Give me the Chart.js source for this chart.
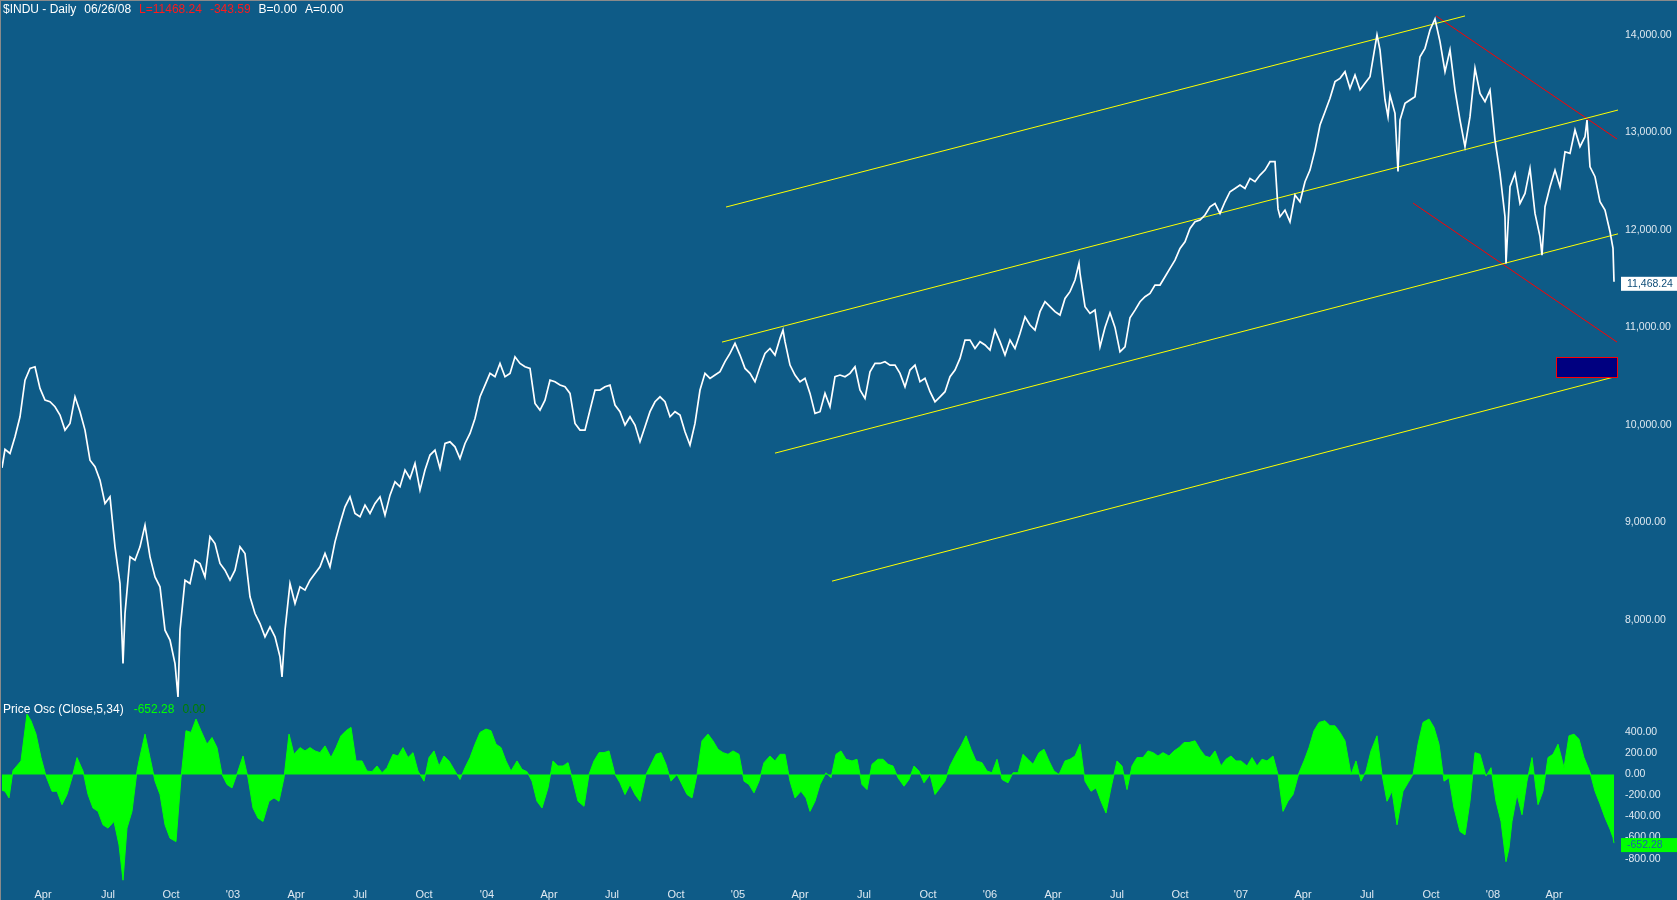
<!DOCTYPE html>
<html><head><meta charset="utf-8">
<script src="https://cdn.jsdelivr.net/npm/chart.js@4/dist/chart.umd.min.js"></script>
<style>
html,body{margin:0;padding:0;background:#0e5b87;overflow:hidden}
#wrap{position:relative;width:1677px;height:900px}
#c{position:absolute;left:0;top:0}
.lbl{position:absolute;font:12px "Liberation Sans",Arial,sans-serif;line-height:14px;color:#fff;white-space:pre}
.lbl span{margin-left:8px}
.lbl span:first-child{margin-left:0}
</style></head><body>
<div id="wrap">
<canvas id="c" width="1677" height="900"></canvas>
<div class="lbl" style="left:3px;top:2px"><span>$INDU - Daily</span><span>06/26/08</span><span style="color:#ff1a1a">L=11468.24</span><span style="color:#ff1a1a">-343.59</span><span>B=0.00</span><span>A=0.00</span></div>
<div class="lbl" style="left:3px;top:702px"><span>Price Osc (Close,5,34)</span><span style="margin-left:10px;color:#00ff00">-652.28</span><span style="color:#008000">0.00</span></div>
</div>
<script>
// ---- x axis (trading-day index) ----
const xMin = 2, xMax = 1620;
const xTickDays = [43,108,171,233,296,360,424,487,549,612,676,738,800,864,928,990,1053,1117,1180,1241,1303,1367,1431,1493,1554];
const xTickLabels = ['Apr','Jul','Oct',"'03",'Apr','Jul','Oct',"'04",'Apr','Jul','Oct',"'05",'Apr','Jul','Oct',"'06",'Apr','Jul','Oct',"'07",'Apr','Jul','Oct',"'08",'Apr'];

// ---- price (Dow Jones Industrials, daily close samples) ----
const priceDays = [2,5,10,15,20,25,30,35,40,45,50,55,60,65,70,75,80,85,90,95,100,105,110,115,120,123,125,130,135,140,145,150,155,160,165,170,175,178,180,185,190,195,200,205,210,215,220,225,230,235,240,245,250,255,260,265,270,275,280,282,285,290,295,300,305,310,315,320,325,330,335,340,345,350,355,360,365,370,375,380,385,390,395,400,405,410,415,420,425,430,435,440,445,450,455,460,465,470,475,480,485,490,495,500,505,510,515,520,525,530,535,
540,545,550,555,560,565,570,575,580,585,590,595,600,605,610,615,620,625,630,635,640,645,650,655,660,665,670,675,680,685,690,695,700,705,710,715,720,725,730,735,740,745,750,755,760,765,770,775,780,783,785,790,795,800,805,810,815,820,825,830,835,840,845,850,855,860,865,870,875,880,885,890,895,900,905,910,915,920,925,930,935,940,945,950,955,960,965,970,975,980,985,990,995,1000,1005,1010,1015,1020,1025,1030,1035,1040,1045,1050,1055,1060,1065,1070,1075,1079,1080,1085,1090,1095,1100,1105,1110,1115,1120,1125,
1130,1135,1140,1145,1150,1155,1160,1165,1170,1175,1180,1185,1190,1195,1200,1205,1210,1215,1220,1225,1230,1235,1240,1245,1250,1255,1260,1265,1270,1275,1278,1280,1285,1290,1295,1300,1305,1310,1315,1320,1325,1330,1335,1340,1345,1350,1355,1360,1365,1370,1377,1380,1385,1388,1390,1395,1398,1400,1405,1410,1415,1420,1425,1430,1435,1440,1445,1450,1455,1460,1465,1470,1475,1480,1485,1490,1495,1500,1505,1506,1510,1515,1520,1525,1530,1535,1540,1542,1545,1550,1555,1560,1565,1570,1575,1580,1585,1587,1590,1595,1600,1605,1610,1613,1614];
const priceClose = [9560,9750,9708,9879,10084,10460,10580,10597,10375,10255,10238,10187,10101,9947,10015,10289,10135,9947,9639,9571,9434,9195,9263,8750,8374,7553,8066,8647,8613,8750,8972,8647,8442,8340,7895,7793,7553,7211,7895,8408,8374,8613,8579,8442,8853,8784,8579,8511,8408,8511,8750,8682,8237,8066,7963,7827,7929,7827,7622,7416,7895,8374,8169,8340,8306,8408,8476,8545,8682,8545,8801,8989,9160,9263,9092,9058,9178,9092,9195,9263,9075,9280,9417,9366,9537,9451,9605,9332,9537,9691,9742,9554,9810,9827,9776,9656,9810,9913,10067,10289,10409,10529,10494,10631,10494,10529,10699,10631,10597,10580,10221,
10153,10255,10460,10443,10409,10392,10324,10016,9947,9947,10153,10358,10358,10392,10409,10204,10136,9999,10084,9999,9828,9982,10136,10238,10289,10238,10084,10136,10101,9930,9794,10016,10358,10529,10478,10512,10546,10649,10734,10837,10717,10580,10529,10443,10597,10734,10785,10717,10888,10973,10854,10614,10512,10443,10478,10324,10119,10136,10324,10187,10495,10512,10495,10529,10597,10358,10272,10546,10631,10631,10649,10614,10614,10529,10392,10563,10614,10443,10478,10341,10238,10289,10341,10495,10563,10683,10871,10871,10785,10854,10820,10768,10973,10854,10717,10871,10785,10939,11110,11025,10973,11162,11264,11213,11162,11127,11298,11367,11486,11657,11555,11213,11144,11179,10802,11000,11150,11000,10750,10800,
11100,11178,11264,11315,11349,11435,11435,11520,11606,11691,11811,11879,12016,12084,12101,12153,12238,12272,12170,12289,12392,12426,12461,12426,12529,12495,12563,12614,12700,12700,12216,12136,12204,12084,12358,12289,12495,12614,12819,13076,13213,13350,13521,13555,13623,13452,13589,13435,13504,13572,14000,13846,13333,13162,13384,13196,12600,13127,13298,13333,13367,13777,13863,14051,14164,13931,13623,13846,13435,13127,12854,13162,13658,13401,13316,13435,12922,12580,12136,11657,12443,12580,12272,12375,12631,12170,11931,11742,12238,12443,12614,12443,12802,12785,13025,12854,12956,13127,12648,12546,12289,12204,11982,11812,11468.24];

// ---- price oscillator (Close,5,34) samples ----
const oscDays = [2,5,9,13,21,27,31,36,41,46,52,57,62,67,72,77,83,88,93,98,103,108,114,119,123,127,132,137,139,145,150,155,160,165,170,176,181,186,191,196,201,207,212,217,222,227,232,238,243,248,253,258,263,269,274,279,284,289,294,300,305,310,315,320,325,331,336,341,346,351,356,362,367,372,377,382,387,393,398,403,408,413,418,424,429,434,439,444,449,455,460,465,470,475,480,486,491,496,501,506,511,517,522,527,532,537,542,548,553,558,563,568,573,578,584,589,594,599,604,609,615,620,625,630,635,640,646,651,656,661,666,671,677,682,687,692,697,702,708,713,718,723,728,733,739,744,749,754,759,764,770,775,780,785,790,795,801,806,
810,815,820,826,831,836,841,846,852,857,862,867,872,878,883,888,893,898,904,909,914,919,924,930,935,940,945,950,956,961,966,971,976,982,987,992,997,1002,1008,1013,1018,1023,1028,1033,1039,1044,1049,1054,1059,1065,1070,1075,1080,1085,1091,1096,1101,1106,1111,1117,1122,1127,1132,1137,1143,1148,1153,1158,1163,1169,1174,1179,1184,1189,1195,1200,1205,1210,1215,1221,1226,1231,1236,1241,1247,1252,1257,1262,1267,1273,1278,1283,1288,1293,1299,1304,1309,1314,1319,1325,1330,1335,1340,1345,1351,1356,1361,1366,1371,1377,1382,1387,1392,1397,1403,1408,1413,1418,1423,1429,1434,1439,1444,1449,1454,1460,1465,1470,1475,1480,1486,1491,1496,1501,1506,1509,1512,1517,1522,1527,1532,1538,1543,1548,1553,1558,1564,1569,1574,1579,1584,1590,1595,1600,1605,1610,1613,1614];
const oscValue = [-150,-160,-223,38,128,574,510,383,160,-16,-160,-160,-287,-191,-32,160,32,-191,-319,-351,-479,-510,-447,-670,-1005,-510,-351,32,128,383,160,-64,-191,-479,-606,-638,-32,415,399,526,415,287,351,255,0,-96,-128,32,175,-32,-319,-415,-447,-255,-223,-255,-32,383,191,255,223,255,223,207,271,160,255,367,415,447,128,128,32,26,80,16,64,191,175,255,160,207,32,-64,160,223,80,175,128,32,-48,64,160,287,399,431,415,287,255,128,32,128,48,26,-64,-255,-319,-128,128,80,80,112,-64,-255,-303,0,128,207,207,223,0,-80,-191,-96,-191,-255,0,96,191,207,96,-64,0,-96,-191,-223,0,319,383,319,239,207,191,223,191,-64,-96,-175,-64,112,175,128,191,191,-64,-223,-160,-223,
-351,-255,-96,16,-32,191,223,144,128,144,-96,-144,96,144,144,96,80,-32,-112,-48,80,32,-80,0,-191,-128,-64,80,191,271,367,239,128,112,32,16,144,-48,-80,16,16,191,144,96,207,239,128,32,0,128,144,175,287,-64,-160,-128,-255,-367,-128,128,80,-144,80,160,160,223,207,175,207,175,223,255,303,303,319,239,175,160,223,80,144,175,128,128,80,160,80,144,128,175,0,-351,-255,-191,16,128,255,415,494,510,462,462,399,319,0,128,-64,32,223,367,0,-255,-160,-479,-160,-80,0,287,494,526,447,287,-64,-32,-319,-542,-574,-255,207,191,-16,64,-255,-447,-829,-702,-447,-191,-383,-64,160,-287,-160,160,191,287,64,367,382,335,160,20,-160,-280,-411,-520,-600,-652.28];

// ---- axis ticks ----
const priceTicks = [8000,9000,10000,11000,12000,13000,14000];
const oscTicks = [400,200,0,-200,-400,-600,-800];
const priceRange = [7179, 14338];
const oscRange = [-1060, 707];

// ---- drawn channel (yellow) and trend (red) lines ----
const channelStartDay = [726, 722, 775, 832];
const channelStartPrice = [12235, 10850, 9711, 8398];
const channelEndDay = [1465, 1618, 1618, 1617];
const channelEndPrice = [14195, 13230, 11960, 10500];
const trendStartDay = [1436, 1413];
const trendStartPrice = [14195, 12276];
const trendEndDay = [1617, 1617];
const trendEndPrice = [12933, 10850];
// target box
const boxDays = [1556, 1617];
const boxPrices = [10491, 10696];

const BG = '#0e5b87';
const TICK = '#dfe9f1';
const FONT = '"Liberation Sans", Arial, sans-serif';
const fmt2 = v => v.toLocaleString('en-US', {minimumFractionDigits: 2, maximumFractionDigits: 2});

const datasets = [];
datasets.push({
  type: 'line', label: 'Price', yAxisID: 'yP',
  data: priceDays.map((d, i) => ({x: d, y: priceClose[i]})),
  borderColor: '#ffffff', borderWidth: 1.7, pointRadius: 0, tension: 0, fill: false
});
datasets.push({
  type: 'line', label: 'Osc', yAxisID: 'yO',
  data: oscDays.map((d, i) => ({x: d, y: oscValue[i]})),
  borderColor: '#00ff00', borderWidth: 1, backgroundColor: '#00ff00', pointRadius: 0, tension: 0, fill: 'origin'
});
channelStartDay.forEach((d, i) => datasets.push({
  type: 'line', yAxisID: 'yP',
  data: [{x: d, y: channelStartPrice[i]}, {x: channelEndDay[i], y: channelEndPrice[i]}],
  borderColor: '#ffff00', borderWidth: 1, pointRadius: 0, fill: false
}));
trendStartDay.forEach((d, i) => datasets.push({
  type: 'line', yAxisID: 'yP',
  data: [{x: d, y: trendStartPrice[i]}, {x: trendEndDay[i], y: trendEndPrice[i]}],
  borderColor: '#ff0000', borderWidth: 1, pointRadius: 0, fill: false
}));

const decor = {
  id: 'decor',
  beforeDraw(chart) {
    const c = chart.ctx;
    c.save();
    c.fillStyle = BG; c.fillRect(0, 0, chart.width, chart.height);
    c.fillStyle = '#8a8a8a';
    c.fillRect(0, 0, chart.width, 1);
    c.fillRect(0, 0, 1, chart.height);
    c.restore();
  },
  afterDraw(chart) {
    const c = chart.ctx, x = chart.scales.x, yP = chart.scales.yP, yO = chart.scales.yO;
    c.save();
    // target box
    const bx0 = x.getPixelForValue(boxDays[0]), bx1 = x.getPixelForValue(boxDays[1]);
    const by0 = yP.getPixelForValue(boxPrices[1]), by1 = yP.getPixelForValue(boxPrices[0]);
    c.fillStyle = '#000080'; c.fillRect(bx0, by0, bx1 - bx0, by1 - by0);
    c.strokeStyle = '#ff0000'; c.lineWidth = 1; c.strokeRect(Math.round(bx0) + 0.5, Math.round(by0) + 0.5, Math.round(bx1 - bx0), Math.round(by1 - by0));
    // last value boxes
    const lastP = priceClose[priceClose.length - 1], lastO = oscValue[oscValue.length - 1];
    const left = chart.chartArea.right + 1;
    c.font = '10.5px ' + FONT;
    c.textBaseline = 'middle'; c.textAlign = 'left';
    let py = yP.getPixelForValue(lastP) + 2;
    c.fillStyle = '#ffffff'; c.fillRect(left, py - 7, chart.width - left, 14);
    c.fillStyle = '#0e4d78'; c.fillText(fmt2(lastP), left + 6, py);
    let oy = yO.getPixelForValue(lastO) + 2;
    c.fillStyle = '#00ff00'; c.fillRect(left, oy - 7, chart.width - left, 14);
    c.fillStyle = '#1a63a8'; c.fillText(fmt2(lastO), left + 6, oy);
    c.restore();
  }
};

const yCommon = (ticksArr) => ({
  type: 'linear', position: 'right', stack: 'panels',
  grid: {display: false, drawTicks: false, tickLength: 0}, border: {display: false},
  ticks: {color: TICK, padding: 5, font: {size: 10.5, family: FONT}, callback: v => fmt2(v)},
  afterBuildTicks: s => { s.ticks = ticksArr.map(v => ({value: v})); },
  afterFit: s => { s.width = 57; s.paddingTop = 0; s.paddingBottom = 0; }
});

new Chart(document.getElementById('c'), {
  type: 'line',
  data: {datasets},
  options: {
    responsive: false, animation: false, devicePixelRatio: 1,
    layout: {padding: {left: 2, top: 2, right: 0, bottom: 0}, autoPadding: false},
    plugins: {legend: {display: false}, tooltip: {enabled: false}},
    scales: {
      x: {
        type: 'linear', min: xMin, max: xMax,
        grid: {display: false, drawTicks: false, tickLength: 0}, border: {display: false},
        ticks: {color: TICK, padding: 2, autoSkip: false, maxRotation: 0, font: {size: 11, family: FONT},
          callback: v => { const i = xTickDays.indexOf(v); return i >= 0 ? xTickLabels[i] : ''; }},
        afterBuildTicks: s => { s.ticks = xTickDays.map(v => ({value: v})); },
        afterFit: s => { s.height = 14; s.paddingLeft = 0; s.paddingRight = 0; }
      },
      yP: Object.assign(yCommon(priceTicks), {min: priceRange[0], max: priceRange[1], stackWeight: 698}),
      yO: Object.assign(yCommon(oscTicks), {min: oscRange[0], max: oscRange[1], stackWeight: 186})
    }
  },
  plugins: [decor]
});
</script>
</body></html>
